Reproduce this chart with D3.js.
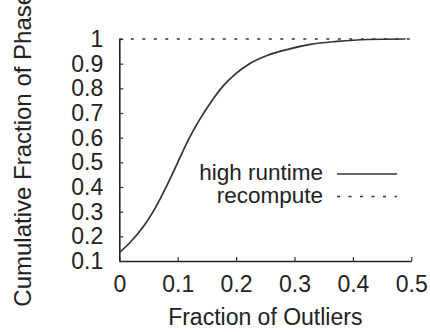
<!DOCTYPE html>
<html>
<head>
<meta charset="utf-8">
<script src="https://cdn.jsdelivr.net/npm/d3@7"></script>
<style>
  body { margin: 0; background: #fff; }
  text { font-family: "Liberation Sans", Arial, sans-serif; fill: #222; }
</style>
</head>
<body>
<div id="chart"></div>
<script>
// values
var fracOutliers = [0, 0.018, 0.041, 0.058, 0.075, 0.090, 0.104, 0.118, 0.138, 0.158, 0.178, 0.198, 0.221, 0.252, 0.287, 0.327, 0.372, 0.424, 0.49];
var highRuntime = [0.134, 0.174, 0.239, 0.30, 0.375, 0.448, 0.52, 0.59, 0.675, 0.748, 0.81, 0.857, 0.897, 0.932, 0.957, 0.978, 0.99, 0.998, 1.0];
var recomputeX = [0, 0.5];
var recomputeY = [1, 1];
var xTicks = [0, 0.1, 0.2, 0.3, 0.4, 0.5];
var yTicks = [0.1, 0.2, 0.3, 0.4, 0.5, 0.6, 0.7, 0.8, 0.9, 1];
var seriesNames = ["high runtime", "recompute"];

var width = 430, height = 332;

var svg = d3.select("#chart")
  .append("svg")
    .attr("width", width)
    .attr("height", height);

var x = d3.scaleLinear().domain([0, 0.5]).range([119.3, 411.3]);
var y = d3.scaleLinear().domain([0.1, 1]).range([261, 39]);

// x axis, ticks pointing in
svg.append("g")
  .attr("transform", "translate(0," + y(0.1) + ")")
  .call(d3.axisBottom(x).tickValues(xTicks).tickSize(-4).tickSizeOuter(0).tickPadding(15)
    .tickFormat(function (d) { return d === 0 ? "0" : d3.format(".1f")(d); }));

// y axis
svg.append("g")
  .attr("transform", "translate(" + x(0) + ",0)")
  .call(d3.axisLeft(y).tickValues(yTicks).tickSize(-4).tickSizeOuter(0).tickPadding(16)
    .tickFormat(function (d) { return d === 1 ? "1" : d3.format(".1f")(d); }));

svg.selectAll(".domain").attr("stroke", "#222").attr("stroke-width", 1.6);
svg.selectAll(".tick line").attr("stroke", "#333").attr("stroke-width", 1.2);
svg.selectAll(".tick text")
  .attr("fill", "#222")
  .style("font-size", "23px")
  .style("font-family", "'Liberation Sans', Arial, sans-serif");

// axis titles
svg.append("text")
  .attr("x", (x(0) + x(0.5)) / 2)
  .attr("y", 325)
  .attr("text-anchor", "middle")
  .style("font-size", "23px")
  .text("Fraction of Outliers");

// the reference cuts this title off at the top edge
svg.append("text")
  .attr("transform", "translate(31,306.7) rotate(-90)")
  .attr("text-anchor", "start")
  .style("font-size", "24px")
  .text("Cumulative Fraction of Phase");

// recompute line (dotted)
var recompute = recomputeX.map(function (d, i) { return [d, recomputeY[i]]; });
svg.append("path")
  .datum(recompute)
  .attr("fill", "none")
  .attr("stroke", "#333")
  .attr("stroke-width", 1.5)
  .attr("stroke-dasharray", "3,8.5")
  .attr("d", d3.line()
    .x(function (d) { return x(d[0]); })
    .y(function (d) { return y(d[1]); }));

// high runtime curve
var hr = fracOutliers.map(function (d, i) { return [d, highRuntime[i]]; });
svg.append("path")
  .datum(hr)
  .attr("fill", "none")
  .attr("stroke", "#333")
  .attr("stroke-width", 1.7)
  .attr("d", d3.line()
    .curve(d3.curveMonotoneX)
    .x(function (d) { return x(d[0]); })
    .y(function (d) { return y(d[1]); }));

// legend
var legend = svg.append("g");
var rowY = [180, 202.5];
seriesNames.forEach(function (name, i) {
  legend.append("text")
    .attr("x", 323)
    .attr("y", rowY[i])
    .attr("text-anchor", "end")
    .style("font-size", "22.5px")
    .text(name);
  legend.append("line")
    .attr("x1", 337).attr("x2", 397)
    .attr("y1", rowY[i] - 6).attr("y2", rowY[i] - 6)
    .attr("stroke", "#333")
    .attr("stroke-width", i === 0 ? 1.7 : 1.5)
    .attr("stroke-dasharray", i === 0 ? null : "3,8.5");
});
</script>
</body>
</html>
